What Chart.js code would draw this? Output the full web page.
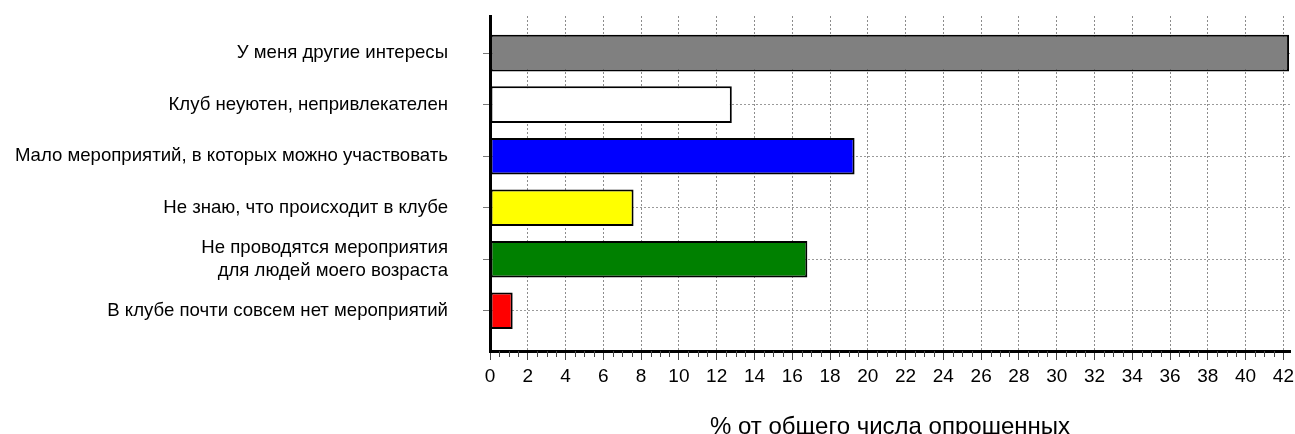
<!DOCTYPE html>
<html>
<head>
<meta charset="utf-8">
<script src="https://cdn.jsdelivr.net/npm/chart.js@4/dist/chart.umd.min.js"></script>
<style>
  html, body { margin: 0; padding: 0; background: #fff; }
  #wrap { width: 1295px; height: 434px; }
</style>
</head>
<body>
<div id="wrap"><canvas id="myChart" width="1295" height="434"></canvas></div>
<script>
// Data
const labels = [
    'У меня другие интересы',
    'Клуб неуютен, непривлекателен',
    'Мало мероприятий, в которых можно участвовать',
    'Не знаю, что происходит в клубе',
    ['Не проводятся мероприятия', 'для людей моего возраста'],
    'В клубе почти совсем нет мероприятий'
];
const values = [42.3, 12.8, 19.3, 7.6, 16.8, 1.2];
const barColors = ['#808080', '#ffffff', '#0000ff', '#ffff00', '#008000', '#ff0000'];
const xTicks = [0, 2, 4, 6, 8, 10, 12, 14, 16, 18, 20, 22, 24, 26, 28, 30, 32, 34, 36, 38, 40, 42];
const xTitle = '% от общего числа опрошенных';

const FONT = '"Liberation Sans", Arial, sans-serif';

// small ticks every 0.5 between the numbered ones
const minorTicks = {
    id: 'minorTicks',
    afterDraw(chart) {
        const {ctx, scales: {x}} = chart;
        const y0 = x.top;
        ctx.save();
        ctx.strokeStyle = '#444';
        ctx.lineWidth = 1;
        for (let v = 0.5; v < x.max; v += 0.5) {
            if (v % 2 === 0) continue;
            const px = Math.round(x.getPixelForValue(v)) + 0.5;
            ctx.beginPath();
            ctx.moveTo(px, y0);
            ctx.lineTo(px, y0 + 6);
            ctx.stroke();
        }
        ctx.restore();
    }
};

const ctx = document.getElementById('myChart').getContext('2d');
const myChart = new Chart(ctx, {
    type: 'bar',
    data: {
        datasets: [{
            data: values.map((v, i) => ({x: v, y: i})),
            backgroundColor: barColors,
            borderColor: '#000',
            borderWidth: 2,
            borderSkipped: false,
            barPercentage: 0.71,
            categoryPercentage: 1
        }]
    },
    options: {
        indexAxis: 'y',
        responsive: false,
        animation: false,
        layout: {padding: {top: 16, right: 5, left: 0, bottom: 0}},
        plugins: {legend: {display: false}, tooltip: {enabled: false}},
        scales: {
            x: {
                type: 'linear',
                min: 0,
                max: 42.35,
                afterBuildTicks: s => { s.ticks = xTicks.map(v => ({value: v})); },
                afterFit: s => { s.height = 83; s.paddingRight = 0; s.paddingLeft = 0; },
                ticks: {
                    autoSkip: false,
                    maxRotation: 0,
                    padding: 5,
                    color: '#000',
                    font: {family: FONT, size: 19}
                },
                grid: {
                    color: '#8c8c8c',
                    lineWidth: 1,
                    tickLength: 9,
                    tickColor: '#444'
                },
                border: {display: true, color: '#000', width: 3, dash: [2, 2]},
                title: {
                    display: true,
                    text: xTitle,
                    color: '#000',
                    padding: {top: 0, bottom: -8},
                    font: {family: FONT, size: 24}
                }
            },
            y: {
                type: 'linear',
                reverse: true,
                offset: false,
                min: -0.72,
                max: 5.78,
                afterBuildTicks: s => { s.ticks = labels.map((l, i) => ({value: i})); },
                afterFit: s => { s.width = 490; s.paddingTop = 0; s.paddingBottom = 0; },
                ticks: {
                    autoSkip: false,
                    padding: 35,
                    color: '#000',
                    font: {family: FONT, size: 18.6, lineHeight: 1.25},
                    callback: v => labels[v]
                },
                grid: {
                    offset: false,
                    color: '#9a9a9a',
                    lineWidth: 1,
                    tickLength: 7,
                    tickColor: '#777'
                },
                border: {display: true, color: '#000', width: 3, dash: [2, 2]}
            }
        }
    },
    plugins: [minorTicks]
});
</script>
</body>
</html>
